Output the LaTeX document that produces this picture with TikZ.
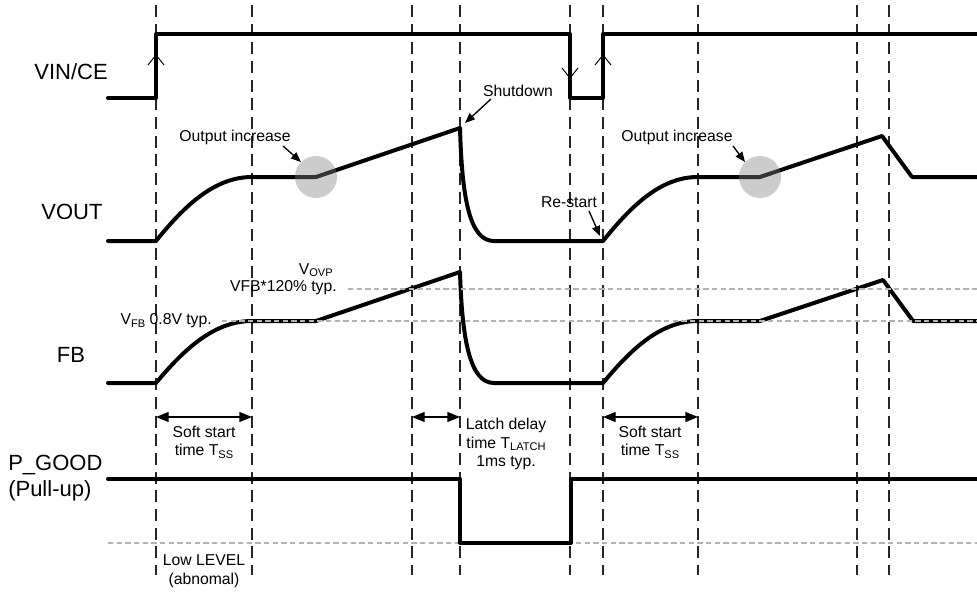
\documentclass[tikz,border=0pt]{standalone}
\usepackage{fontspec}
\setmainfont{Liberation Sans}
\usetikzlibrary{arrows.meta}
\definecolor{refgray}{RGB}{178,178,178}
\newcommand\lowsub[1]{\raisebox{-0.3ex}{\fontsize{8.3}{9}\selectfont #1}}
\begin{document}
\begin{tikzpicture}[x=0.75pt,y=-0.75pt,
  wave/.style={line width=3pt,line join=round,line cap=round},
  guide/.style={line width=0.9pt,dash pattern=on 9pt off 5pt,black!85},
  refline/.style={line width=1.5pt,dash pattern=on 4pt off 2.5pt,refgray},
  biglabel/.style={font=\fontsize{16.5}{19.5}\selectfont,inner sep=0pt},
  smalllabel/.style={font=\fontsize{11.8}{13.9}\selectfont,align=center,inner sep=0pt},
  ptr/.style={line width=1pt,-{Triangle[length=7.5pt,width=6pt]}},
  span/.style={line width=1pt,{Triangle[length=9.5pt,width=7.5pt]}-{Triangle[length=9.5pt,width=7.5pt]}},
  edgemark/.style={line width=0.75pt},
  hilite/.style={circle,fill=gray,opacity=0.4,minimum size=31.5pt,inner sep=0pt}]
\useasboundingbox (0,0) rectangle (977,592);
\fill[white] (0,0) rectangle (977,592);

% vertical guides
\foreach \gx in {156,252,412,460,570,603,698,857,889}
  \draw[guide] (\gx,5) -- (\gx,575);

% labels of signals
\node[biglabel] (lvin) at (71,72) {VIN/CE};
\node[biglabel] (lvout) at (72,212) {VOUT};
\node[biglabel] (lfb) at (71,355) {FB};
\node[biglabel,anchor=west] (lpg) at (8,465) {P\_GOOD};
\node[biglabel,anchor=west] (lpu) at (8,491) {(Pull-up)};

% VIN/CE
\draw[wave] (108,98) -- (156,98) -- (156,34) -- (570,34) -- (570,98) -- (603,98) -- (603,34) -- (977,34);
\draw[edgemark] (148,65) -- (156,55) -- (164,65);
\draw[edgemark] (562,68) -- (570,78) -- (578,68);
\draw[edgemark] (595,65) -- (603,55) -- (611,65);

% VOUT
\draw[wave] (108,241) -- (156,241) .. controls (185,205) and (215,177) .. (252,177) -- (316,177) -- (460,128)
  .. controls (462,200) and (470,241) .. (494,241) -- (603,241)
  .. controls (632,205) and (661,177) .. (698,177) -- (760,177) -- (882,136) -- (912,177) -- (977,177);
\node[hilite] (c1) at (316,177) {};
\node[hilite] (c2) at (760,177) {};

% FB
\draw[wave] (108,383) -- (156,383) .. controls (185,348) and (215,321) .. (252,321) -- (316,321) -- (460,272)
  .. controls (462,340) and (470,383) .. (494,383) -- (603,383)
  .. controls (632,348) and (661,321) .. (698,321) -- (760,321) -- (883,280) -- (913,321) -- (977,321);

% reference levels
\draw[refline] (222,321) -- (977,321);
\draw[refline] (348,289) -- (977,289);
\draw[refline] (108,543) -- (977,543);

% P_GOOD
\draw[wave] (108,479) -- (460,479) -- (460,543) -- (571,543) -- (571,479) -- (977,479);

% annotations
\node[smalllabel] (oi1) at (235,137) {Output increase};
\node[smalllabel] (oi2) at (677,137) {Output increase};
\node[smalllabel] (sd) at (518,91) {Shutdown};
\node[smalllabel] (rs) at (569,202) {Re-start};
\coordinate (oi1s) at (283,146);
\coordinate (oi2s) at (733,146);
\coordinate (sds) at (491,99);
\coordinate (peak) at (465,123);
\coordinate (rss) at (589,211);
\coordinate (rst) at (600,236);
\draw[ptr] (oi1s) -- (c1.135);
\draw[ptr] (oi2s) -- (c2.135);
\draw[ptr] (sds) -- (peak);
\draw[ptr] (rss) -- (rst);

\node[smalllabel,anchor=east] (vfb) at (212,321) {V\lowsub{FB} 0.8V typ.};
\node[smalllabel,anchor=east] (vovp) at (333,270) {V\lowsub{OVP}};
\node[smalllabel,anchor=east] (vovp2) at (337,288) {VFB*120\% typ.};

% timing spans
\coordinate (s1a) at (156,417);
\coordinate (s1b) at (252,417);
\coordinate (s2a) at (412,417);
\coordinate (s2b) at (460,417);
\coordinate (s3a) at (603,417);
\coordinate (s3b) at (698,417);
\draw[span] (s1a) -- (s1b);
\draw[span] (s2a) -- (s2b);
\draw[span] (s3a) -- (s3b);
\node[smalllabel] (ss1) at (204,442) {Soft start\\time T\lowsub{SS}};
\node[smalllabel] (ss2) at (650,442) {Soft start\\time T\lowsub{SS}};
\node[smalllabel] (lat) at (506,444) {Latch delay\\time T\lowsub{LATCH}\\1ms typ.};
\node[smalllabel] (low) at (204,571) {Low LEVEL\\(abnomal)};
\end{tikzpicture}
\end{document}
